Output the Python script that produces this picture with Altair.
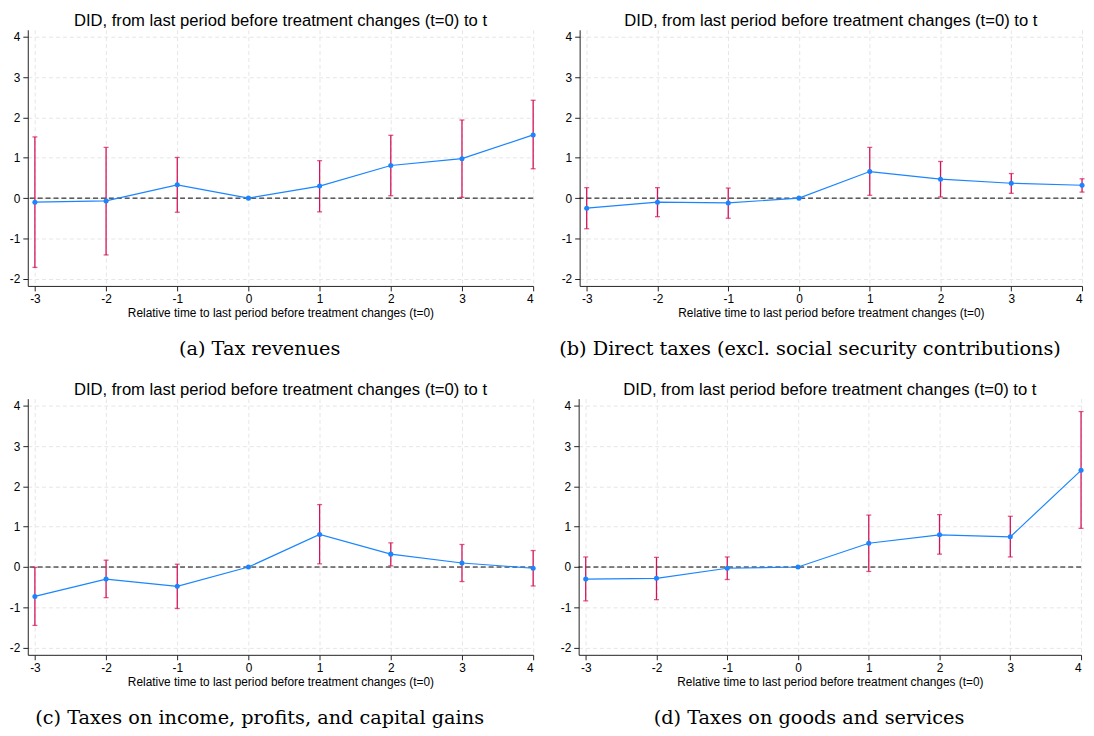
import altair as alt
import pandas as pd

t = [-3, -2, -1, 0, 1, 2, 3, 4]
y_ticks = [-2, -1, 0, 1, 2, 3, 4]

a_est = [-0.10, -0.07, 0.33, 0.0, 0.30, 0.81, 0.98, 1.57]
a_lo = [-1.72, -1.41, -0.35, None, -0.34, 0.06, 0.02, 0.73]
a_hi = [1.52, 1.26, 1.01, None, 0.93, 1.56, 1.94, 2.43]

b_est = [-0.25, -0.10, -0.12, 0.0, 0.66, 0.47, 0.37, 0.32]
b_lo = [-0.76, -0.46, -0.50, None, 0.07, 0.03, 0.12, 0.15]
b_hi = [0.26, 0.26, 0.25, None, 1.26, 0.91, 0.61, 0.48]

c_est = [-0.73, -0.30, -0.48, 0.0, 0.81, 0.32, 0.10, -0.03]
c_lo = [-1.45, -0.76, -1.03, None, 0.08, 0.03, -0.36, -0.47]
c_hi = [-0.01, 0.17, 0.07, None, 1.55, 0.60, 0.56, 0.41]

d_est = [-0.30, -0.28, -0.03, 0.0, 0.59, 0.80, 0.75, 2.40]
d_lo = [-0.84, -0.81, -0.31, None, -0.11, 0.32, 0.25, 0.96]
d_hi = [0.25, 0.24, 0.25, None, 1.29, 1.30, 1.26, 3.86]

captions = [
    "(a) Tax revenues",
    "(b) Direct taxes (excl. social security contributions)",
    "(c) Taxes on income, profits, and capital gains",
    "(d) Taxes on goods and services",
]

TITLE = "DID, from last period before treatment changes (t=0) to t"
XTITLE = "Relative time to last period before treatment changes (t=0)"

BLUE = "#1a85ff"
RED = "#d41159"
SANS = "Liberation Sans"
SERIF = "DejaVu Serif"
LABEL_EXPR = "'' + datum.value"


def panel(est, lo, hi, caption, width):
    df = pd.DataFrame({"t": t, "est": est, "lo": lo, "hi": hi})
    xs = alt.Scale(domain=[-3.1, 4], nice=False, zero=False)
    ys = alt.Scale(domain=[-2.18, 4.18], nice=False, zero=False)
    xax = alt.Axis(values=t, labelExpr=LABEL_EXPR, title=XTITLE)
    yax = alt.Axis(values=y_ticks, labelExpr=LABEL_EXPR, title=None)
    X = alt.X("t:Q", scale=xs, axis=xax)

    base = alt.Chart(df)
    zero = (
        alt.Chart(pd.DataFrame({"z": [0]}))
        .mark_rule(color="black", strokeDash=[5, 3], strokeWidth=1)
        .encode(y=alt.Y("z:Q", scale=ys, axis=yax))
    )
    ci = base.transform_filter("isValid(datum.lo)")
    bars = ci.mark_rule(color=RED, strokeWidth=1.3).encode(
        x=X, y=alt.Y("lo:Q", scale=ys, axis=yax), y2="hi:Q"
    )
    cap_lo = ci.mark_tick(color=RED, orient="horizontal", size=5, thickness=1.3).encode(
        x=X, y=alt.Y("lo:Q", scale=ys, axis=yax)
    )
    cap_hi = ci.mark_tick(color=RED, orient="horizontal", size=5, thickness=1.3).encode(
        x=X, y=alt.Y("hi:Q", scale=ys, axis=yax)
    )
    line = base.mark_line(color=BLUE, strokeWidth=1.2).encode(
        x=X, y=alt.Y("est:Q", scale=ys, axis=yax)
    )
    pts = base.mark_circle(color=BLUE, size=26, opacity=1).encode(
        x=X, y=alt.Y("est:Q", scale=ys, axis=yax)
    )
    lay = alt.layer(zero, bars, cap_lo, cap_hi, line, pts).properties(
        width=width,
        height=259,
        title=alt.TitleParams(
            TITLE, font=SANS, fontSize=16.8, fontWeight="normal", color="black", offset=0
        ),
    )
    return alt.vconcat(
        lay,
        title=alt.TitleParams(
            caption,
            orient="bottom",
            anchor="middle",
            font=SERIF,
            fontSize=19.5,
            fontWeight="normal",
            color="black",
            offset=21,
            dx=-13,
        ),
    )


pa = panel(a_est, a_lo, a_hi, captions[0], 511)
pb = panel(b_est, b_lo, b_hi, captions[1], 508)
pc = panel(c_est, c_lo, c_hi, captions[2], 511)
pd_ = panel(d_est, d_lo, d_hi, captions[3], 508)

chart = (
    alt.vconcat(
        alt.hconcat(pa, pb, spacing=22),
        alt.hconcat(pc, pd_, spacing=22),
        spacing=23,
    )
    .properties(padding=0, background="white")
    .configure_view(stroke="transparent")
    .configure_axis(
        labelFont=SANS,
        titleFont=SANS,
        labelFontSize=12,
        titleFontSize=12,
        titleFontWeight="normal",
        labelColor="black",
        titleColor="black",
        domainColor="#222222",
        tickColor="#222222",
        tickSize=5,
        labelPadding=3,
        titlePadding=3,
        gridColor="#e6e6e6",
        gridDash=[4, 3],
    )
)

chart.save("out.html", embed_options={"renderer": "svg", "actions": False})
